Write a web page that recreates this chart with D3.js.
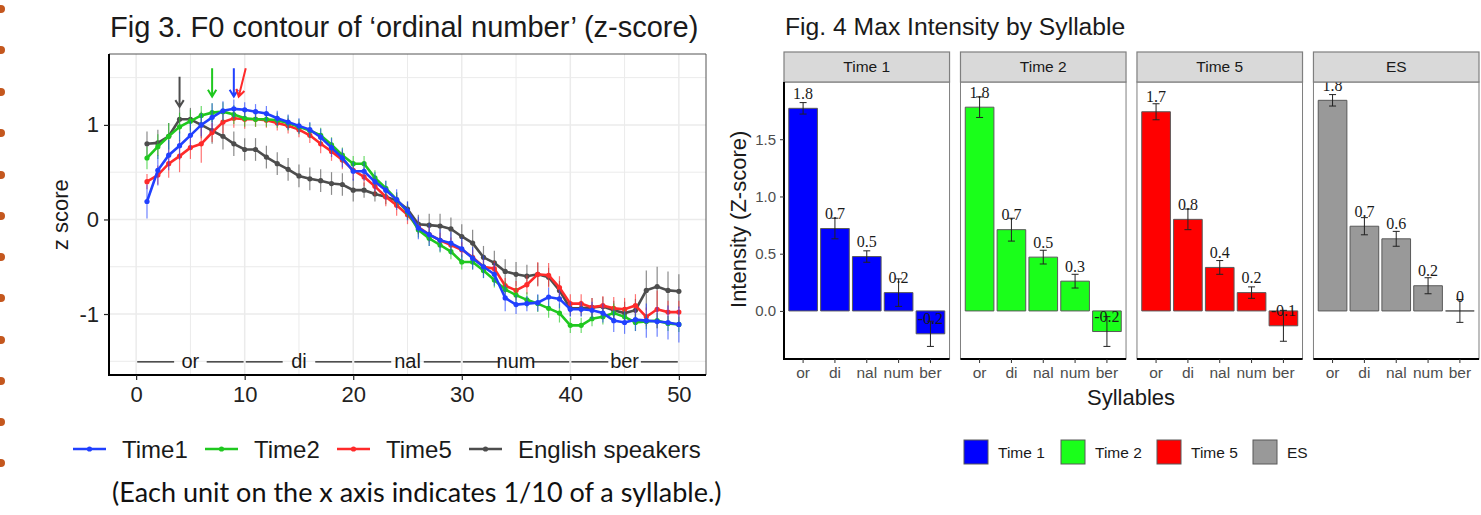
<!DOCTYPE html>
<html>
<head>
<meta charset="utf-8">
<script src="https://cdn.jsdelivr.net/npm/d3@7"></script>
<style>
  body { margin: 0; background: #fff; }
  svg { display: block; font-family: "Liberation Sans", Arial, sans-serif; }
</style>
</head>
<body>
<svg id="chart" width="1481" height="515"></svg>
<script>
// ---- Fig 3 data (x = 1..50, tenths of a syllable) ----
var steps = d3.range(1, 51);
var time1 = [0.19,0.52,0.68,0.78,0.89,1.00,1.08,1.15,1.17,1.16,
             1.14,1.12,1.07,1.03,0.99,0.95,0.87,0.76,0.65,0.51,
             0.51,0.40,0.31,0.21,0.09,-0.09,-0.16,-0.22,-0.25,-0.31,
             -0.41,-0.50,-0.58,-0.83,-0.90,-0.89,-0.88,-0.82,-0.84,-0.95,
             -0.95,-0.96,-0.99,-1.07,-1.09,-1.06,-1.07,-1.08,-1.09,-1.11];
var time1Err = [0.18,0.16,0.16,0.15,0.15,0.12,0.15,0.10,0.10,0.08,
                0.08,0.08,0.08,0.08,0.08,0.08,0.09,0.10,0.10,0.10,
                0.10,0.10,0.10,0.11,0.10,0.12,0.12,0.12,0.12,0.12,
                0.12,0.12,0.12,0.14,0.10,0.08,0.09,0.10,0.10,0.08,
                0.08,0.09,0.10,0.12,0.12,0.12,0.18,0.16,0.18,0.19];
var time2 = [0.65,0.77,0.88,0.98,1.04,1.10,1.13,1.14,1.11,1.07,
             1.06,1.06,1.05,1.02,0.98,0.94,0.89,0.79,0.68,0.59,
             0.59,0.44,0.33,0.21,0.08,-0.11,-0.20,-0.27,-0.34,-0.45,
             -0.45,-0.54,-0.64,-0.74,-0.80,-0.85,-0.89,-0.94,-0.99,-1.12,
             -1.12,-1.05,-1.03,-0.99,-1.03,-1.09,-1.08,-1.07,-1.10,-1.11];
var time2Err = [0.12,0.13,0.14,0.15,0.12,0.10,0.10,0.10,0.10,0.09,
                0.08,0.08,0.08,0.08,0.08,0.08,0.08,0.08,0.08,0.08,
                0.08,0.08,0.08,0.08,0.08,0.08,0.08,0.08,0.08,0.08,
                0.08,0.08,0.08,0.08,0.08,0.08,0.09,0.10,0.10,0.08,
                0.08,0.08,0.08,0.10,0.08,0.09,0.08,0.08,0.08,0.08];
var time5 = [0.40,0.47,0.59,0.67,0.76,0.80,0.92,1.03,1.07,1.06,
             1.06,1.05,1.02,0.99,0.95,0.89,0.80,0.72,0.63,0.52,
             0.45,0.35,0.24,0.15,0.05,-0.08,-0.16,-0.22,-0.27,-0.32,
             -0.40,-0.50,-0.52,-0.70,-0.75,-0.69,-0.58,-0.59,-0.72,-0.89,
             -0.89,-0.93,-0.91,-0.94,-0.95,-0.91,-1.03,-0.95,-0.98,-0.98];
var time5Err = [0.08,0.10,0.15,0.17,0.12,0.20,0.10,0.12,0.10,0.10,
                0.08,0.08,0.08,0.08,0.08,0.08,0.10,0.10,0.10,0.10,
                0.10,0.10,0.10,0.11,0.10,0.08,0.08,0.08,0.08,0.08,
                0.08,0.08,0.08,0.08,0.10,0.10,0.13,0.13,0.12,0.10,
                0.10,0.10,0.10,0.12,0.12,0.12,0.10,0.20,0.12,0.12];
var english = [0.80,0.81,0.88,1.06,1.06,1.00,0.94,0.88,0.80,0.74,
               0.74,0.66,0.59,0.53,0.46,0.43,0.41,0.38,0.37,0.31,
               0.31,0.27,0.24,0.20,0.11,-0.05,-0.06,-0.07,-0.10,-0.18,
               -0.25,-0.40,-0.46,-0.55,-0.58,-0.60,-0.58,-0.61,-0.75,-0.94,
               -0.94,-0.93,-0.92,-0.96,-0.99,-0.96,-0.75,-0.71,-0.75,-0.76];
var englishErr = [0.13,0.14,0.14,0.15,0.12,0.14,0.14,0.14,0.13,0.12,
                  0.12,0.12,0.12,0.12,0.12,0.12,0.12,0.12,0.12,0.12,
                  0.08,0.08,0.08,0.08,0.08,0.10,0.12,0.13,0.12,0.13,
                  0.14,0.12,0.13,0.13,0.13,0.12,0.12,0.10,0.10,0.08,
                  0.08,0.10,0.10,0.10,0.12,0.12,0.21,0.21,0.20,0.18];
var seriesNames = ["Time1", "Time2", "Time5", "English speakers"];
// peak arrows: [x top, y top, x tip, y tip]
var peakArrows = [[4, 1.51, 4, 1.19], [7, 1.60, 7, 1.30], [9, 1.60, 9, 1.30], [10.1, 1.60, 9.45, 1.30]];
var syllables = ["or", "di", "nal", "num", "ber"];

// ---- Fig 4 data ----
var groups = ["Time 1", "Time 2", "Time 5", "ES"];
var int1 = [1.77, 0.72, 0.475, 0.16, -0.20], int1Err = [0.05, 0.09, 0.05, 0.12, 0.11];
var int2 = [1.78, 0.71, 0.47, 0.26, -0.18], int2Err = [0.09, 0.10, 0.06, 0.06, 0.13];
var int5 = [1.74, 0.80, 0.38, 0.16, -0.13], int5Err = [0.07, 0.09, 0.06, 0.05, 0.135];
var intES = [1.84, 0.74, 0.63, 0.22, 0.0], intESErr = [0.05, 0.075, 0.065, 0.07, 0.10];

var bulletY = [9, 50, 92, 133, 175, 216, 257, 298, 340, 381, 422, 463];

var lineColors = ["#2040ff", "#1fc81f", "#ff2a2a", "#4d4d4d"],
    barColors = ["#0000ff", "#1aff1a", "#ff0000", "#999999"];

var svg = d3.select("#chart");

// slide bullets along the left edge
svg.append("g").selectAll("circle")
  .data(bulletY)
  .enter().append("circle")
  .attr("cx", 1).attr("cy", function(d) { return d; })
  .attr("r", 4).attr("fill", "#c4571e");

/* ======================= Fig 3 ======================= */
var xL = d3.scaleLinear().domain([-2.5, 52.5]).range([109, 706]),
    yL = d3.scaleLinear().domain([-1.645, 1.75]).range([375, 54]);

var left = svg.append("g");

left.append("text")
  .attr("x", 110).attr("y", 37)
  .attr("font-size", 29).attr("fill", "#1a1a1a")
  .text("Fig 3. F0 contour of \u2018ordinal number\u2019 (z-score)");

left.append("g").selectAll("line")
  .data(d3.range(0, 51, 5))
  .enter().append("line")
  .attr("x1", xL).attr("x2", xL)
  .attr("y1", 54).attr("y2", 375)
  .attr("stroke", "#ebebeb").attr("stroke-width", function(d) { return d % 10 ? 1 : 1.5; });
left.append("g").selectAll("line")
  .data([-1.5, -1, -0.5, 0, 0.5, 1, 1.5])
  .enter().append("line")
  .attr("x1", 109).attr("x2", 706)
  .attr("y1", yL).attr("y2", yL)
  .attr("stroke", "#ebebeb").attr("stroke-width", function(d) { return d % 1 ? 1 : 1.5; });

// panel border: thin grey top/right, black axis lines left/bottom
left.append("path")
  .attr("d", "M109,54H706V375")
  .attr("fill", "none").attr("stroke", "#555").attr("stroke-width", 1);

var series = [english, time5, time2, time1].map(function(vals, i) {
  var k = 3 - i;
  var errs = [englishErr, time5Err, time2Err, time1Err][i];
  return {
    name: seriesNames[k],
    color: lineColors[k],
    points: steps.map(function(s, j) { return { x: s, y: vals[j], e: errs[j] }; })
  };
});

var line = d3.line()
  .x(function(d) { return xL(d.x); })
  .y(function(d) { return yL(d.y); });

var sg = left.append("g").selectAll("g")
  .data(series)
  .enter().append("g");

sg.append("path")
  .attr("d", function(d) { return line(d.points); })
  .attr("fill", "none")
  .attr("stroke", function(d) { return d.color; })
  .attr("stroke-width", 2.6);

sg.selectAll("line.err")
  .data(function(d) { return d.points.map(function(p) { return { p: p, c: d.color }; }); })
  .enter().append("line")
  .attr("class", "err")
  .attr("x1", function(d) { return xL(d.p.x); })
  .attr("x2", function(d) { return xL(d.p.x); })
  .attr("y1", function(d) { return yL(d.p.y - d.p.e); })
  .attr("y2", function(d) { return yL(d.p.y + d.p.e); })
  .attr("stroke", function(d) { return d.c; })
  .attr("stroke-opacity", 0.65)
  .attr("stroke-width", 1.2);

sg.selectAll("circle")
  .data(function(d) { return d.points.map(function(p) { return { p: p, c: d.color }; }); })
  .enter().append("circle")
  .attr("cx", function(d) { return xL(d.p.x); })
  .attr("cy", function(d) { return yL(d.p.y); })
  .attr("r", 2.6)
  .attr("fill", function(d) { return d.c; });

// arrows marking the F0 peak of each group
var arrowColors = [lineColors[3], lineColors[1], lineColors[0], lineColors[2]];
var ag = left.append("g").selectAll("g")
  .data(peakArrows)
  .enter().append("g")
  .attr("stroke", function(d, i) { return arrowColors[i]; })
  .attr("stroke-width", 2)
  .attr("fill", "none");
ag.append("path")
  .attr("d", function(d) {
    var x1 = xL(d[0]), y1 = yL(d[1]), x2 = xL(d[2]), y2 = yL(d[3]);
    var a = Math.atan2(y2 - y1, x2 - x1), h = 8, w = 0.55;
    return "M" + x1 + "," + y1 + "L" + x2 + "," + y2 +
      "M" + (x2 - h * Math.cos(a - w)) + "," + (y2 - h * Math.sin(a - w)) +
      "L" + x2 + "," + y2 +
      "L" + (x2 - h * Math.cos(a + w)) + "," + (y2 - h * Math.sin(a + w));
  });

// syllable ruler along the bottom
var sylG = left.append("g").selectAll("g")
  .data(syllables)
  .enter().append("g");
sylG.append("text")
  .attr("x", function(d, i) { return xL(i * 10 + 5); })
  .attr("y", yL(-1.5) + 7)
  .attr("text-anchor", "middle")
  .attr("font-size", 20).attr("fill", "#1a1a1a")
  .text(function(d) { return d; });
sylG.append("path")
  .attr("d", function(d, i) {
    var y = yL(-1.5) + 0.5;
    return "M" + xL(i * 10 + 0.1) + "," + y + "H" + xL(i * 10 + 3.5) +
      "M" + xL(i * 10 + 6.5) + "," + y + "H" + xL(i * 10 + 9.9);
  })
  .attr("stroke", "#1a1a1a").attr("stroke-width", 1.3);

var yAxisL = left.append("g")
  .attr("transform", "translate(109,0)")
  .call(d3.axisLeft(yL).tickValues([-1, 0, 1]).tickFormat(function(d) { return String(d); }).tickSize(5).tickPadding(5));
var xAxisL = left.append("g")
  .attr("transform", "translate(0,375)")
  .call(d3.axisBottom(xL).tickValues(d3.range(0, 51, 10)).tickSize(5).tickPadding(6));
[yAxisL, xAxisL].forEach(function(a) {
  a.select(".domain").attr("stroke", "#000").attr("stroke-width", 2);
  a.selectAll(".tick line").attr("stroke", "#222").attr("stroke-width", 1.2);
  a.selectAll(".tick text").attr("font-size", 22).attr("fill", "#222")
    .attr("font-family", "Liberation Sans, Arial, sans-serif");
});
yAxisL.select(".domain").attr("d", "M0,54V376");
xAxisL.select(".domain").attr("d", "M108,0H706");

left.append("text")
  .attr("transform", "translate(68," + yL(0.05) + ") rotate(-90)")
  .attr("text-anchor", "middle")
  .attr("font-size", 22).attr("fill", "#1a1a1a")
  .text("z score");

// legend
var legL = left.append("g").selectAll("g")
  .data(seriesNames)
  .enter().append("g")
  .attr("transform", function(d, i) { return "translate(" + (73 + i * 132) + ",449)"; });
legL.append("line")
  .attr("x1", 0).attr("x2", 33)
  .attr("stroke", function(d, i) { return lineColors[i]; })
  .attr("stroke-width", 2.6);
legL.append("circle")
  .attr("cx", 16.5).attr("r", 2.6)
  .attr("fill", function(d, i) { return lineColors[i]; });
legL.append("text")
  .attr("x", 49).attr("y", 9)
  .attr("font-size", 24).attr("fill", "#1a1a1a")
  .text(function(d) { return d; });

left.append("text")
  .attr("x", 112).attr("y", 502)
  .attr("font-family", "Lato, 'Open Sans', sans-serif")
  .attr("font-size", 27).attr("fill", "#111")
  .text("(Each unit on the x axis indicates 1/10 of a syllable.)");

/* ======================= Fig 4 ======================= */
var right = svg.append("g");
var panelX = d3.scaleBand().domain(groups).range([784, 1479]).paddingInner(0.062),
    sylX = d3.scaleBand().domain(syllables).range([0, panelX.bandwidth()]).paddingInner(0.1).paddingOuter(0.15),
    yR = d3.scaleLinear().domain([-0.42, 2.0]).range([359, 82]);
var stripTop = 52, stripBot = 82;

right.append("text")
  .attr("x", 785).attr("y", 35)
  .attr("font-size", 24.7).attr("fill", "#1a1a1a")
  .text("Fig. 4 Max Intensity by Syllable");

var intensity = [int1, int2, int5, intES],
    intensityErr = [int1Err, int2Err, int5Err, intESErr];

var panel = right.selectAll("g.panel")
  .data(groups)
  .enter().append("g")
  .attr("class", "panel")
  .attr("transform", function(d) { return "translate(" + panelX(d) + ",0)"; });

panel.append("rect")
  .attr("x", 0).attr("y", stripBot)
  .attr("width", panelX.bandwidth()).attr("height", 359 - stripBot)
  .attr("fill", "#fff").attr("stroke", "#7f7f7f").attr("stroke-width", 1);

var bars = panel.selectAll("g.bar")
  .data(function(d, gi) {
    return syllables.map(function(s, j) {
      return { s: s, v: intensity[gi][j], e: intensityErr[gi][j], c: barColors[gi] };
    });
  })
  .enter().append("g")
  .attr("class", "bar");

bars.append("path")
  .attr("d", function(d) {
    var x0 = sylX(d.s), x1 = x0 + sylX.bandwidth();
    return "M" + x0 + "," + yR(0) + "H" + x1 + "V" + yR(d.v) + "H" + x0 + "Z";
  })
  .attr("fill", function(d) { return d.c; })
  .attr("stroke", "#595959").attr("stroke-width", 1);

bars.append("path")
  .attr("d", function(d) {
    var cx = sylX(d.s) + sylX.bandwidth() / 2, lo = yR(d.v - d.e), hi = yR(d.v + d.e);
    return "M" + (cx - 3.5) + "," + hi + "H" + (cx + 3.5) +
      "M" + cx + "," + hi + "V" + lo +
      "M" + (cx - 3.5) + "," + lo + "H" + (cx + 3.5);
  })
  .attr("fill", "none").attr("stroke", "#222").attr("stroke-width", 1);

bars.append("text")
  .attr("x", function(d) { return sylX(d.s) + sylX.bandwidth() / 2; })
  .attr("y", function(d) { return yR(d.v + 0.13) + 5.5; })
  .attr("text-anchor", "middle")
  .attr("font-family", "Liberation Serif, Times New Roman, serif")
  .attr("font-size", 16).attr("fill", "#1a1a1a")
  .text(function(d) { return String(Math.round(d.v * 10) / 10); });

// strips drawn last so they cover labels poking above the panel
panel.append("rect")
  .attr("x", 0).attr("y", stripTop)
  .attr("width", panelX.bandwidth()).attr("height", stripBot - stripTop)
  .attr("fill", "#d9d9d9").attr("stroke", "#7f7f7f").attr("stroke-width", 1.2);
panel.append("text")
  .attr("x", panelX.bandwidth() / 2).attr("y", stripBot - 10)
  .attr("text-anchor", "middle")
  .attr("font-size", 15.5).attr("fill", "#1a1a1a")
  .text(function(d) { return d; });

panel.each(function(d, gi) {
  var ax = d3.select(this).append("g")
    .attr("transform", "translate(0,359)")
    .call(d3.axisBottom(sylX).tickSize(4).tickPadding(4));
  ax.select(".domain").attr("d", "M0,0H" + panelX.bandwidth()).attr("stroke", "#000").attr("stroke-width", 2);
  ax.selectAll(".tick line").attr("stroke", "#333");
  ax.selectAll(".tick text").attr("font-size", 15.5).attr("fill", "#4d4d4d")
    .attr("font-family", "Liberation Sans, Arial, sans-serif");
});

var yAxisR = right.append("g")
  .attr("transform", "translate(784,0)")
  .call(d3.axisLeft(yR).tickValues([0, 0.5, 1, 1.5]).tickFormat(d3.format(".1f")).tickSize(4).tickPadding(4));
yAxisR.select(".domain").attr("d", "M0," + stripBot + "V360").attr("stroke", "#000").attr("stroke-width", 2);
yAxisR.selectAll(".tick line").attr("stroke", "#333");
yAxisR.selectAll(".tick text").attr("font-size", 15).attr("fill", "#4d4d4d")
  .attr("font-family", "Liberation Sans, Arial, sans-serif");

right.append("text")
  .attr("transform", "translate(746," + yR(0.8) + ") rotate(-90)")
  .attr("text-anchor", "middle")
  .attr("font-size", 22).attr("fill", "#1a1a1a")
  .text("Intensity (Z-score)");
right.append("text")
  .attr("x", 1131).attr("y", 405)
  .attr("text-anchor", "middle")
  .attr("font-size", 22).attr("fill", "#1a1a1a")
  .text("Syllables");

var legR = right.append("g").selectAll("g")
  .data(groups)
  .enter().append("g")
  .attr("transform", function(d, i) { return "translate(" + [964, 1061, 1157, 1253][i] + ",440)"; });
legR.append("rect")
  .attr("width", 24).attr("height", 24)
  .attr("fill", function(d, i) { return barColors[i]; })
  .attr("stroke", "#595959").attr("stroke-width", 1);
legR.append("text")
  .attr("x", 34).attr("y", 18)
  .attr("font-size", 15.5).attr("fill", "#1a1a1a")
  .text(function(d) { return d; });
</script>
</body>
</html>
